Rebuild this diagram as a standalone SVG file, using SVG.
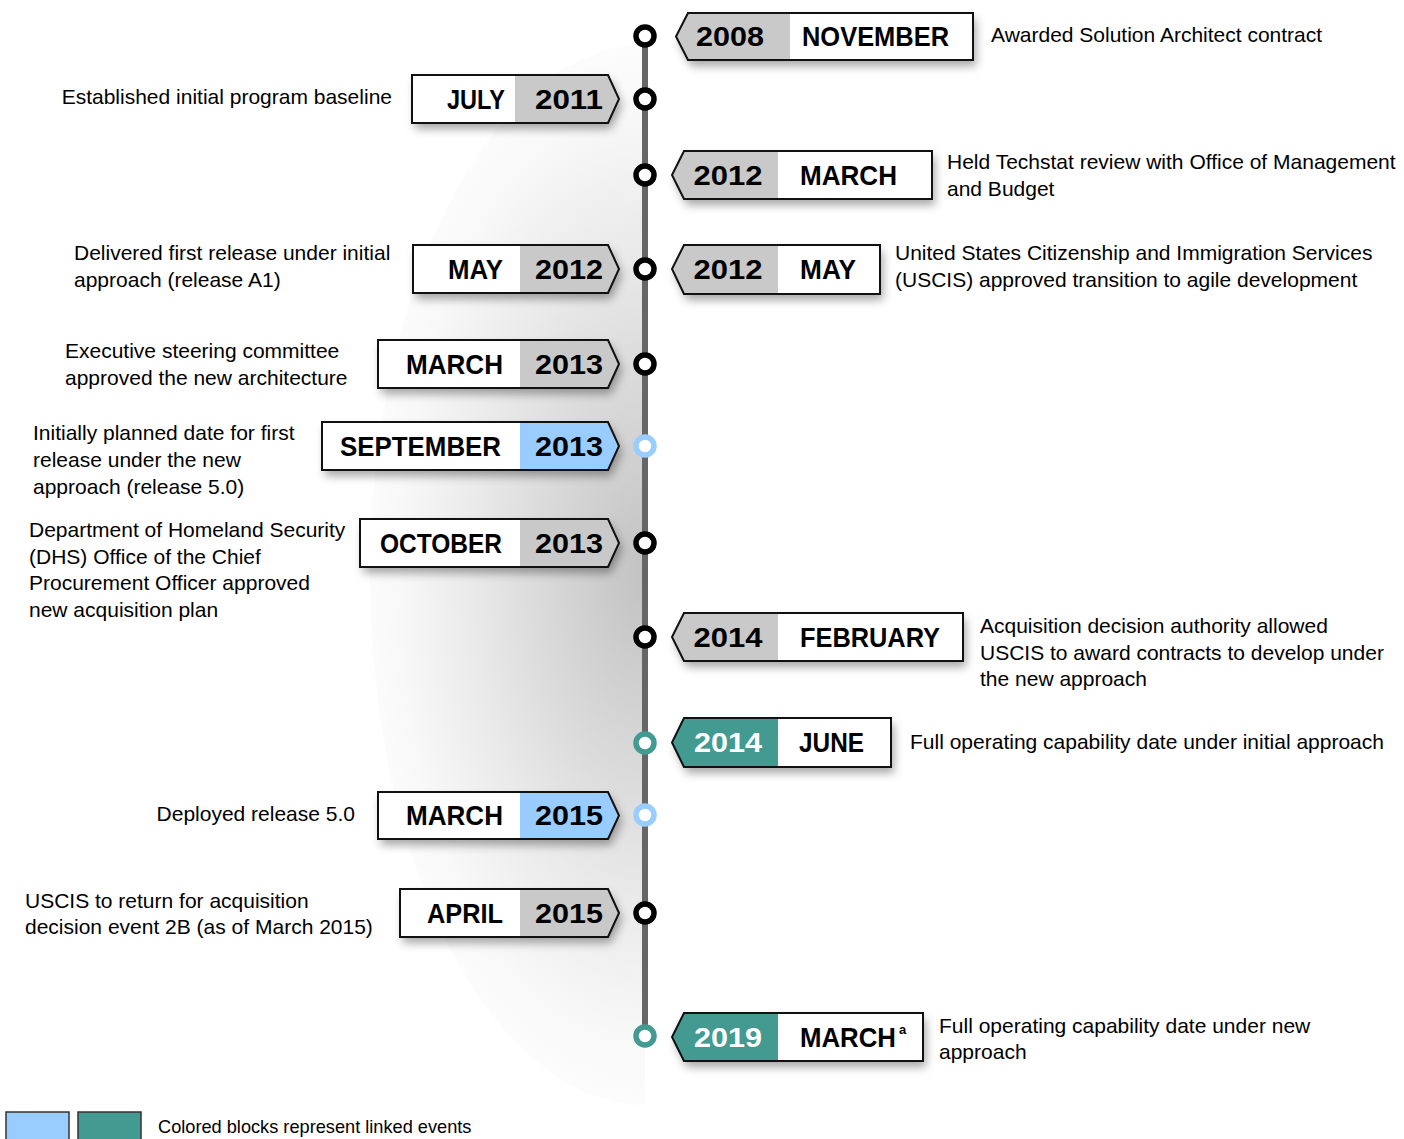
<svg xmlns="http://www.w3.org/2000/svg" width="1404" height="1139" viewBox="0 0 1404 1139">
<defs>
<radialGradient id="bgGrad" gradientUnits="userSpaceOnUse" cx="0" cy="0" r="1" gradientTransform="translate(645,575) scale(290,545)">
<stop offset="0" stop-color="#c2c2c2"/>
<stop offset="0.3" stop-color="#d6d6d6"/>
<stop offset="0.6" stop-color="#eaeaea"/>
<stop offset="0.85" stop-color="#f8f8f8"/>
<stop offset="1" stop-color="#fdfdfd"/>
</radialGradient>
<filter id="shadow" x="-20%" y="-40%" width="140%" height="200%">
<feDropShadow dx="3" dy="6" stdDeviation="5" flood-color="#000" flood-opacity="0.35"/>
</filter>
<style>
.box{stroke:#111;stroke-width:2;}
.white{fill:#fff;}
.gray{fill:#c9c9c9;}
.blue{fill:#99ccff;}
.teal{fill:#429a91;}
.lbl{font-family:"Liberation Sans",Arial,sans-serif;font-weight:bold;font-size:28px;fill:#000;}
.lblw{font-family:"Liberation Sans",Arial,sans-serif;font-weight:bold;font-size:28px;fill:#fff;}
.sup{font-family:"Liberation Sans",Arial,sans-serif;font-weight:bold;font-size:13px;fill:#000;}
.desc{font-family:"Liberation Sans",Arial,sans-serif;font-size:21px;fill:#000;}
.dot{fill:#fff;stroke:#000;stroke-width:5.5;}
.dotb{fill:#fff;stroke:#99ccff;stroke-width:5.5;}
.dott{fill:#fff;stroke:#429a91;stroke-width:5.5;}
.leg{font-family:"Liberation Sans",Arial,sans-serif;font-size:18.2px;fill:#000;}
</style>
</defs>
<rect width="1404" height="1139" fill="#fff"/>
<path d="M645,45 A275,530 0 0 0 645,1105 Z" fill="url(#bgGrad)"/>

<g id="connectors">
<line x1="645" y1="36" x2="645" y2="1036" stroke="#666" stroke-width="6"/>
</g>

<g id="e2008nov">
<g filter="url(#shadow)">
<polygon class="white" points="688,13 973,13 973,60 688,60 676,36.5"/>
</g>
<polygon class="gray" points="688,13 790,13 790,60 688,60 676,36.5"/>
<polygon class="box" fill="none" points="688,13 973,13 973,60 688,60 676,36.5"/>
<text class="lbl" x="730" y="46" text-anchor="middle" textLength="68" lengthAdjust="spacingAndGlyphs">2008</text>
<text class="lbl" x="802" y="46" textLength="147" lengthAdjust="spacingAndGlyphs">NOVEMBER</text>
<circle class="dot" cx="645" cy="36" r="9"/>
<text class="desc" x="991" y="42">Awarded Solution Architect contract</text>
</g>

<g id="e2011jul">
<g filter="url(#shadow)">
<polygon class="white" points="412,75 608,75 619,99 608,123 412,123"/>
</g>
<polygon class="gray" points="515,75 608,75 619,99 608,123 515,123"/>
<polygon class="box" fill="none" points="412,75 608,75 619,99 608,123 412,123"/>
<text class="lbl" x="505" y="109" text-anchor="end" textLength="58" lengthAdjust="spacingAndGlyphs">JULY</text>
<text class="lbl" x="569" y="109" text-anchor="middle" textLength="68" lengthAdjust="spacingAndGlyphs">2011</text>
<circle class="dot" cx="645" cy="99" r="9"/>
<text class="desc" x="392" y="104" text-anchor="end">Established initial program baseline</text>
</g>

<g id="e2012mar">
<g filter="url(#shadow)">
<polygon class="white" points="684,151 932,151 932,199 684,199 672,175"/>
</g>
<polygon class="gray" points="684,151 778,151 778,199 684,199 672,175"/>
<polygon class="box" fill="none" points="684,151 932,151 932,199 684,199 672,175"/>
<text class="lbl" x="728" y="185" text-anchor="middle" textLength="69" lengthAdjust="spacingAndGlyphs">2012</text>
<text class="lbl" x="800" y="185" textLength="97" lengthAdjust="spacingAndGlyphs">MARCH</text>
<circle class="dot" cx="645" cy="175" r="9"/>
<text class="desc" x="947" y="169">Held Techstat review with Office of Management</text>
<text class="desc" x="947" y="196">and Budget</text>
</g>

<g id="e2012mayL">
<g filter="url(#shadow)">
<polygon class="white" points="413,245 608,245 619,269 608,293 413,293"/>
</g>
<polygon class="gray" points="520,245 608,245 619,269 608,293 520,293"/>
<polygon class="box" fill="none" points="413,245 608,245 619,269 608,293 413,293"/>
<text class="lbl" x="503" y="279" text-anchor="end" textLength="55" lengthAdjust="spacingAndGlyphs">MAY</text>
<text class="lbl" x="569" y="279" text-anchor="middle" textLength="68" lengthAdjust="spacingAndGlyphs">2012</text>
<text class="desc" x="74" y="260">Delivered first release under initial</text>
<text class="desc" x="74" y="287">approach (release A1)</text>
</g>

<g id="e2012mayR">
<g filter="url(#shadow)">
<polygon class="white" points="684,245 880,245 880,294 684,294 672,269"/>
</g>
<polygon class="gray" points="684,245 778,245 778,294 684,294 672,269"/>
<polygon class="box" fill="none" points="684,245 880,245 880,294 684,294 672,269"/>
<text class="lbl" x="728" y="279" text-anchor="middle" textLength="69" lengthAdjust="spacingAndGlyphs">2012</text>
<text class="lbl" x="800" y="279" textLength="56" lengthAdjust="spacingAndGlyphs">MAY</text>
<circle class="dot" cx="645" cy="269" r="9"/>
<text class="desc" x="895" y="260">United States Citizenship and Immigration Services</text>
<text class="desc" x="895" y="287">(USCIS) approved transition to agile development</text>
</g>

<g id="e2013mar">
<g filter="url(#shadow)">
<polygon class="white" points="378,340 608,340 619,364 608,388 378,388"/>
</g>
<polygon class="gray" points="520,340 608,340 619,364 608,388 520,388"/>
<polygon class="box" fill="none" points="378,340 608,340 619,364 608,388 378,388"/>
<text class="lbl" x="503" y="374" text-anchor="end" textLength="97" lengthAdjust="spacingAndGlyphs">MARCH</text>
<text class="lbl" x="569" y="374" text-anchor="middle" textLength="68" lengthAdjust="spacingAndGlyphs">2013</text>
<circle class="dot" cx="645" cy="364" r="9"/>
<text class="desc" x="65" y="358">Executive steering committee</text>
<text class="desc" x="65" y="385">approved the new architecture</text>
</g>

<g id="e2013sep">
<g filter="url(#shadow)">
<polygon class="white" points="322,422 608,422 619,446 608,470 322,470"/>
</g>
<polygon class="blue" points="520,422 608,422 619,446 608,470 520,470"/>
<polygon class="box" fill="none" points="322,422 608,422 619,446 608,470 322,470"/>
<text class="lbl" x="501" y="456" text-anchor="end" textLength="161" lengthAdjust="spacingAndGlyphs">SEPTEMBER</text>
<text class="lbl" x="569" y="456" text-anchor="middle" textLength="68" lengthAdjust="spacingAndGlyphs">2013</text>
<circle class="dotb" cx="645" cy="446" r="9"/>
<text class="desc" x="33" y="440">Initially planned date for first</text>
<text class="desc" x="33" y="467">release under the new</text>
<text class="desc" x="33" y="494">approach (release 5.0)</text>
</g>

<g id="e2013oct">
<g filter="url(#shadow)">
<polygon class="white" points="360,519 608,519 619,543 608,567 360,567"/>
</g>
<polygon class="gray" points="520,519 608,519 619,543 608,567 520,567"/>
<polygon class="box" fill="none" points="360,519 608,519 619,543 608,567 360,567"/>
<text class="lbl" x="502" y="553" text-anchor="end" textLength="122" lengthAdjust="spacingAndGlyphs">OCTOBER</text>
<text class="lbl" x="569" y="553" text-anchor="middle" textLength="68" lengthAdjust="spacingAndGlyphs">2013</text>
<circle class="dot" cx="645" cy="543" r="9"/>
<text class="desc" x="29" y="537">Department of Homeland Security</text>
<text class="desc" x="29" y="564">(DHS) Office of the Chief</text>
<text class="desc" x="29" y="590">Procurement Officer approved</text>
<text class="desc" x="29" y="617">new acquisition plan</text>
</g>

<g id="e2014feb">
<g filter="url(#shadow)">
<polygon class="white" points="684,613 963,613 963,661 684,661 672,637"/>
</g>
<polygon class="gray" points="684,613 778,613 778,661 684,661 672,637"/>
<polygon class="box" fill="none" points="684,613 963,613 963,661 684,661 672,637"/>
<text class="lbl" x="728" y="647" text-anchor="middle" textLength="69" lengthAdjust="spacingAndGlyphs">2014</text>
<text class="lbl" x="800" y="647" textLength="140" lengthAdjust="spacingAndGlyphs">FEBRUARY</text>
<circle class="dot" cx="645" cy="637" r="9"/>
<text class="desc" x="980" y="633">Acquisition decision authority allowed</text>
<text class="desc" x="980" y="660">USCIS to award contracts to develop under</text>
<text class="desc" x="980" y="686">the new approach</text>
</g>

<g id="e2014jun">
<g filter="url(#shadow)">
<polygon class="white" points="684,718 891,718 891,767 684,767 672,742.5"/>
</g>
<polygon class="teal" points="684,718 778,718 778,767 684,767 672,742.5"/>
<polygon class="box" fill="none" points="684,718 891,718 891,767 684,767 672,742.5"/>
<text class="lblw" x="728" y="752" text-anchor="middle" textLength="68" lengthAdjust="spacingAndGlyphs">2014</text>
<text class="lbl" x="799" y="752" textLength="65" lengthAdjust="spacingAndGlyphs">JUNE</text>
<circle class="dott" cx="645" cy="743" r="9"/>
<text class="desc" x="910" y="749">Full operating capability date under initial approach</text>
</g>

<g id="e2015mar">
<g filter="url(#shadow)">
<polygon class="white" points="378,792 608,792 619,815.5 608,839 378,839"/>
</g>
<polygon class="blue" points="520,792 608,792 619,815.5 608,839 520,839"/>
<polygon class="box" fill="none" points="378,792 608,792 619,815.5 608,839 378,839"/>
<text class="lbl" x="503" y="825" text-anchor="end" textLength="97" lengthAdjust="spacingAndGlyphs">MARCH</text>
<text class="lbl" x="569" y="825" text-anchor="middle" textLength="68" lengthAdjust="spacingAndGlyphs">2015</text>
<circle class="dotb" cx="645" cy="815" r="9"/>
<text class="desc" x="355" y="821" text-anchor="end">Deployed release 5.0</text>
</g>

<g id="e2015apr">
<g filter="url(#shadow)">
<polygon class="white" points="400,889 608,889 619,913 608,937 400,937"/>
</g>
<polygon class="gray" points="520,889 608,889 619,913 608,937 520,937"/>
<polygon class="box" fill="none" points="400,889 608,889 619,913 608,937 400,937"/>
<text class="lbl" x="503" y="923" text-anchor="end" textLength="76" lengthAdjust="spacingAndGlyphs">APRIL</text>
<text class="lbl" x="569" y="923" text-anchor="middle" textLength="68" lengthAdjust="spacingAndGlyphs">2015</text>
<circle class="dot" cx="645" cy="913" r="9"/>
<text class="desc" x="25" y="908">USCIS to return for acquisition</text>
<text class="desc" x="25" y="934">decision event 2B (as of March 2015)</text>
</g>

<g id="e2019mar">
<g filter="url(#shadow)">
<polygon class="white" points="684,1013 923,1013 923,1061 684,1061 672,1037"/>
</g>
<polygon class="teal" points="684,1013 778,1013 778,1061 684,1061 672,1037"/>
<polygon class="box" fill="none" points="684,1013 923,1013 923,1061 684,1061 672,1037"/>
<text class="lblw" x="728" y="1047" text-anchor="middle" textLength="68" lengthAdjust="spacingAndGlyphs">2019</text>
<text class="lbl" x="800" y="1047" textLength="96" lengthAdjust="spacingAndGlyphs">MARCH</text>
<text class="sup" x="899" y="1034">a</text>
<circle class="dott" cx="645" cy="1036" r="9"/>
<text class="desc" x="939" y="1033">Full operating capability date under new</text>
<text class="desc" x="939" y="1059">approach</text>
</g>

<g id="legend">
<rect x="6" y="1112" width="63" height="30" fill="#99ccff" stroke="#333" stroke-width="1.5"/>
<rect x="78" y="1112" width="63" height="30" fill="#429a91" stroke="#333" stroke-width="1.5"/>
<text class="leg" x="158" y="1133">Colored blocks represent linked events</text>
</g>
</svg>
